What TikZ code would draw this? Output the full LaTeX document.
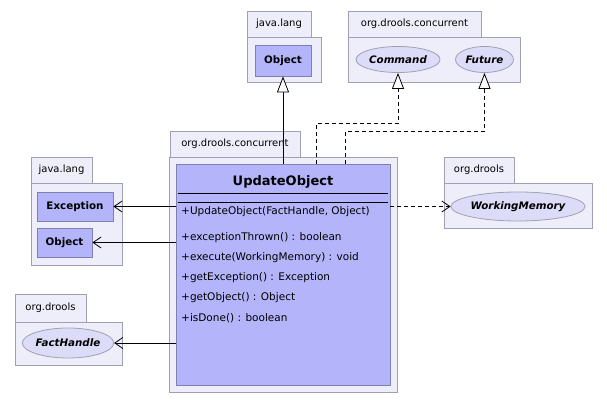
\documentclass[tikz,border=0pt]{standalone}
\usepackage{fontspec}
\setmainfont{DejaVu Sans}
\usetikzlibrary{arrows.meta,shapes.geometric}
\definecolor{pkgfill}{RGB}{238,238,251}
\definecolor{pkgline}{RGB}{160,160,180}
\definecolor{clsfill}{RGB}{180,180,250}
\definecolor{clsline}{RGB}{128,128,176}
\definecolor{ifcfill}{RGB}{220,220,248}
\tikzset{
  pkg/.style={draw=pkgline, fill=pkgfill, line width=0.8pt, inner sep=0pt, rectangle},
  pkgtab/.style={pkg, font=\fontsize{10}{12}\selectfont},
  cls/.style={draw=clsline, fill=clsfill, line width=0.8pt, inner sep=0pt, rectangle, font=\bfseries\fontsize{10.3}{12}\selectfont},
  ifc/.style={draw=pkgline, fill=ifcfill, line width=0.8pt, inner sep=0pt, ellipse, font=\bfseries\itshape\fontsize{10.3}{12}\selectfont},
  op/.style={anchor=west, inner sep=0pt, font=\fontsize{10.5}{12}\selectfont},
  inherit/.style={line width=0.8pt, -{Triangle[length=16pt,width=12pt,fill=white]}},
  realize/.style={line width=0.8pt, dash pattern=on 4pt off 3pt, -{Triangle[length=16pt,width=12pt,fill=white]}},
  assoc/.style={line width=0.8pt, -{Straight Barb[length=8pt,width=11pt]}},
  depend/.style={line width=0.8pt, dash pattern=on 4pt off 3pt, -{Straight Barb[length=8pt,width=11pt]}},
}
\begin{document}
\begin{tikzpicture}[x=1pt,y=-1pt]
\useasboundingbox[fill=white] (0,0) rectangle (607,404);
% top java.lang
\node[pkgtab, minimum width=64pt, minimum height=26pt] (tjltab) at (279,24) {java.lang};
\node[pkg, minimum width=74pt, minimum height=45pt] (tjl) at (284,59.5) {};
\node[cls, minimum width=56pt, minimum height=31pt] (objtop) at (283,60.5) {Object};
% top org.drools.concurrent
\node[pkgtab, minimum width=133pt, minimum height=26pt] (tcctab) at (414.5,24) {org.drools.concurrent};
\node[pkg, minimum width=172pt, minimum height=45pt] (tcc) at (434,59.5) {};
\node[ifc, minimum width=84pt, minimum height=26pt] (cmd) at (398,59.5) {Command};
\node[ifc, minimum width=58pt, minimum height=26pt] (fut) at (484.5,59.5) {Future};
% main package
\node[pkgtab, minimum width=130pt, minimum height=26pt] (mtab) at (235,144) {org.drools.concurrent};
\node[pkg, minimum width=228pt, minimum height=235pt] (mpkg) at (283,274.5) {};
\node[cls, minimum width=214pt, minimum height=221pt] (upd) at (283,274.5) {};
\node[font=\bfseries\fontsize{13}{15}\selectfont, inner sep=0pt] (updname) at (283,181.5) {UpdateObject};
\draw[line width=0.8pt] (178,193) -- (388,193);
\draw[line width=0.8pt] (178,202) -- (388,202);
\node[op] (op1) at (181,212) {+UpdateObject(FactHandle, Object)};
\node[op] (op2) at (181,237.5) {+exceptionThrown() : boolean};
\node[op] (op3) at (181,258) {+execute(WorkingMemory) : void};
\node[op] (op4) at (181,278) {+getException() : Exception};
\node[op] (op5) at (181,298) {+getObject() : Object};
\node[op] (op6) at (181,318.5) {+isDone() : boolean};
% left java.lang
\node[pkgtab, minimum width=61pt, minimum height=26pt] (ljltab) at (61.5,170) {java.lang};
\node[pkg, minimum width=91pt, minimum height=82pt] (ljl) at (76.5,224) {};
\node[cls, minimum width=76pt, minimum height=29pt] (exc) at (75,206.5) {Exception};
\node[cls, minimum width=55pt, minimum height=29pt] (objl) at (64.5,242.5) {Object};
% left org.drools
\node[pkgtab, minimum width=71pt, minimum height=28pt] (ldtab) at (50.5,308) {org.drools};
\node[pkg, minimum width=107pt, minimum height=43pt] (ld) at (68.5,343.5) {};
\node[ifc, minimum width=90pt, minimum height=30pt] (fh) at (68,343) {FactHandle};
% right org.drools
\node[pkgtab, minimum width=70pt, minimum height=26pt] (rdtab) at (479,170) {org.drools};
\node[pkg, minimum width=148pt, minimum height=45pt] (rd) at (518,205.5) {};
\node[ifc, minimum width=132pt, minimum height=29pt] (wm) at (518,206.5) {WorkingMemory};
% connectors
\draw[inherit] (upd.north -| objtop.south) -- (objtop.south);
\draw[realize] ([xshift=33pt]upd.north) -- ++(0,-40) -| (cmd.south);
\draw[realize] ([xshift=62pt]upd.north) -- ++(0,-32) -| (fut.south);
\draw[assoc] (upd.west |- exc.east) -- (exc.east);
\draw[assoc] (upd.west |- objl.east) -- (objl.east);
\draw[assoc] (upd.west |- fh.east) -- (fh.east);
\draw[depend] (upd.east |- wm.west) -- (wm.west);
\end{tikzpicture}
\end{document}
